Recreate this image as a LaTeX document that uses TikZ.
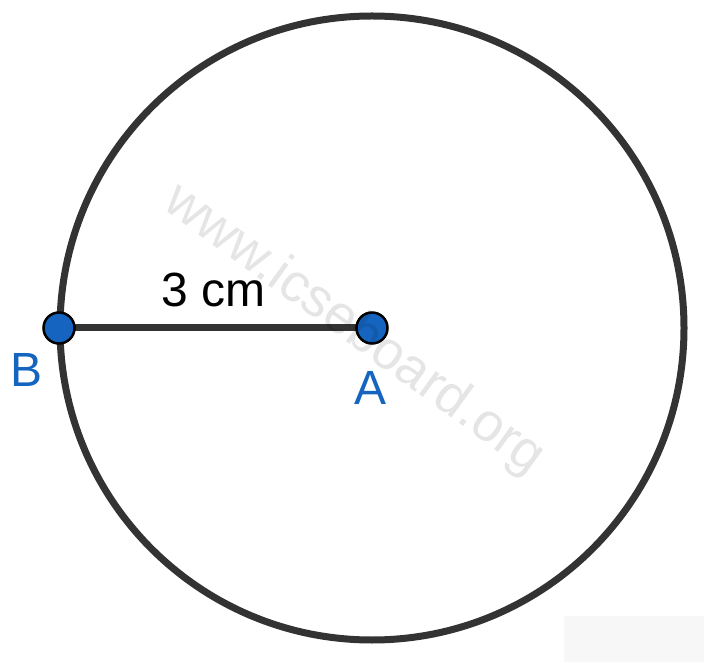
\documentclass[tikz,border=0pt]{standalone}
\usepackage{fontspec}
\setmainfont{Liberation Sans}
\definecolor{ptblue}{HTML}{1565C0}
\definecolor{rimgray}{HTML}{333333}
\begin{document}
\begin{tikzpicture}[x=1pt,y=1pt,
    dot/.style={circle,draw=black,fill=ptblue,line width=2.5pt,inner sep=0pt,minimum size=31pt},
    rim/.style={draw=rimgray,line width=7pt},
    ptlabel/.style={text=ptblue,anchor=base,font=\fontsize{48}{58}\selectfont},
    lenlabel/.style={anchor=base,font=\fontsize{48}{58}\selectfont}]
  \useasboundingbox (0,0) rectangle (704,662);
  \fill[black!3] (564,0) rectangle (704,46);
  \draw[rim] (372,334) circle (312);
  \coordinate (a) at (372,334);
  \coordinate (b) at (59,334);
  \draw[rim] (b) -- (a);
  \node[dot] (A) at (a) {};
  \node[dot] (B) at (b) {};
  \node[ptlabel] (lA) at (370.5,258) {A};
  \node[ptlabel] (lB) at (27,275) {B};
  \node[lenlabel] (len) at (214,355) {3 cm};
  \node[rotate=-36,text opacity=0.1,font=\fontsize{54}{64}\selectfont] (wm) at (354,332) {www.icseboard.org};
\end{tikzpicture}
\end{document}
